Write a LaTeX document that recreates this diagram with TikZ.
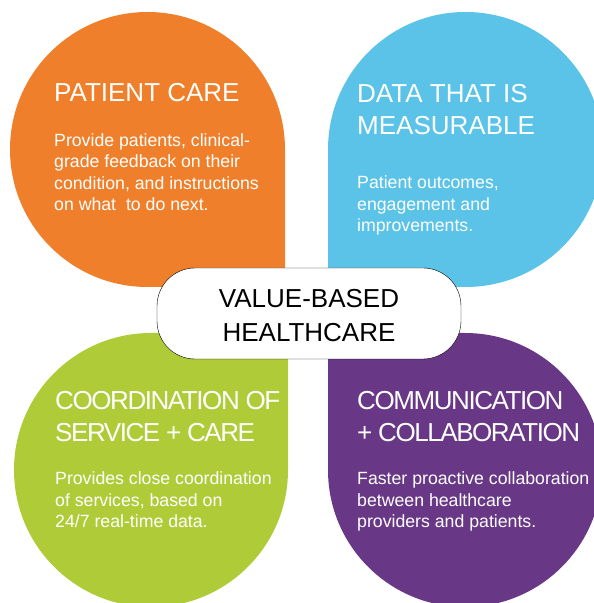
\documentclass[tikz,border=0pt]{standalone}
\usepackage{fontspec}
\setmainfont{Liberation Sans}
\newfontfamily\tightfont[LetterSpace=-5.5]{Liberation Sans}
\usepackage{xcolor}
\usepackage{tikz}
\usetikzlibrary{positioning}
\definecolor{carecol}{HTML}{EF7F2A}
\definecolor{datacol}{HTML}{5AC3E7}
\definecolor{servcol}{HTML}{AFCB38}
\definecolor{commcol}{HTML}{683786}
\tikzset{
    headtxt/.style = {anchor=base west, inner sep=0pt, align=left, text=white, font=\fontsize{26}{32.5}\selectfont},
    tighthead/.style = {headtxt, font=\fontsize{26}{32}\selectfont\tightfont},
    bodytxt/.style = {anchor=base west, inner sep=0pt, align=left, text=white, font=\fontsize{17.7}{21.5}\selectfont},
    hubnode/.style = {draw=black, fill=white, rounded corners=38pt, thin, align=center, minimum width=304pt, minimum height=91pt, inner sep=0pt, text height=56.5pt, text depth=0pt, font=\fontsize{26}{34}\selectfont},
}

\begin{document}
\begin{tikzpicture}[x=1pt, y=1pt]
\useasboundingbox (0,0) rectangle (594,603);
\clip (0,0) rectangle (594,603);

% petals
\fill[carecol] (147.5,316) -- (285,316) -- (285,453.5) arc[start angle=0, end angle=270, radius=137.5] -- cycle;
\fill[datacol] (328,453.5) -- (328,316) -- (465.5,316) arc[start angle=-90, end angle=180, radius=137.5] -- cycle;
\fill[servcol] (288,133) -- (288,270) -- (151,270) arc[start angle=90, end angle=360, radius=137] -- cycle;
\fill[commcol] (465,270) -- (328,270) -- (328,133) arc[start angle=180, end angle=450, radius=137] -- cycle;

% texts (base = last line)
\node[headtxt] at (54,501) (careh) {PATIENT CARE};
\node[bodytxt] at (54,392) (careb) {Provide patients, clinical-\\grade feedback on their\\condition, and instructions\\on what\ \ to do next.};

\node[headtxt] at (357,468) (datah) {DATA THAT IS\\MEASURABLE};
\node[bodytxt] at (357,371) (datab) {Patient outcomes,\\engagement and\\improvements.};

\node[tighthead] at (55,161) (servh) {COORDINATION OF\\SERVICE + CARE};
\node[bodytxt] at (55,75) (servb) {Provides close coordination\\of services, based on\\24/7 real-time data.};

\node[tighthead] at (357,161.5) (commh) {COMMUNICATION\\+ COLLABORATION};
\node[bodytxt] at (357,75) (commb) {Faster proactive collaboration\\between healthcare\\providers and patients.};

\node[hubnode] at (309,289.5) (hub) {VALUE-BASED\\HEALTHCARE};

\end{tikzpicture}
\end{document}
